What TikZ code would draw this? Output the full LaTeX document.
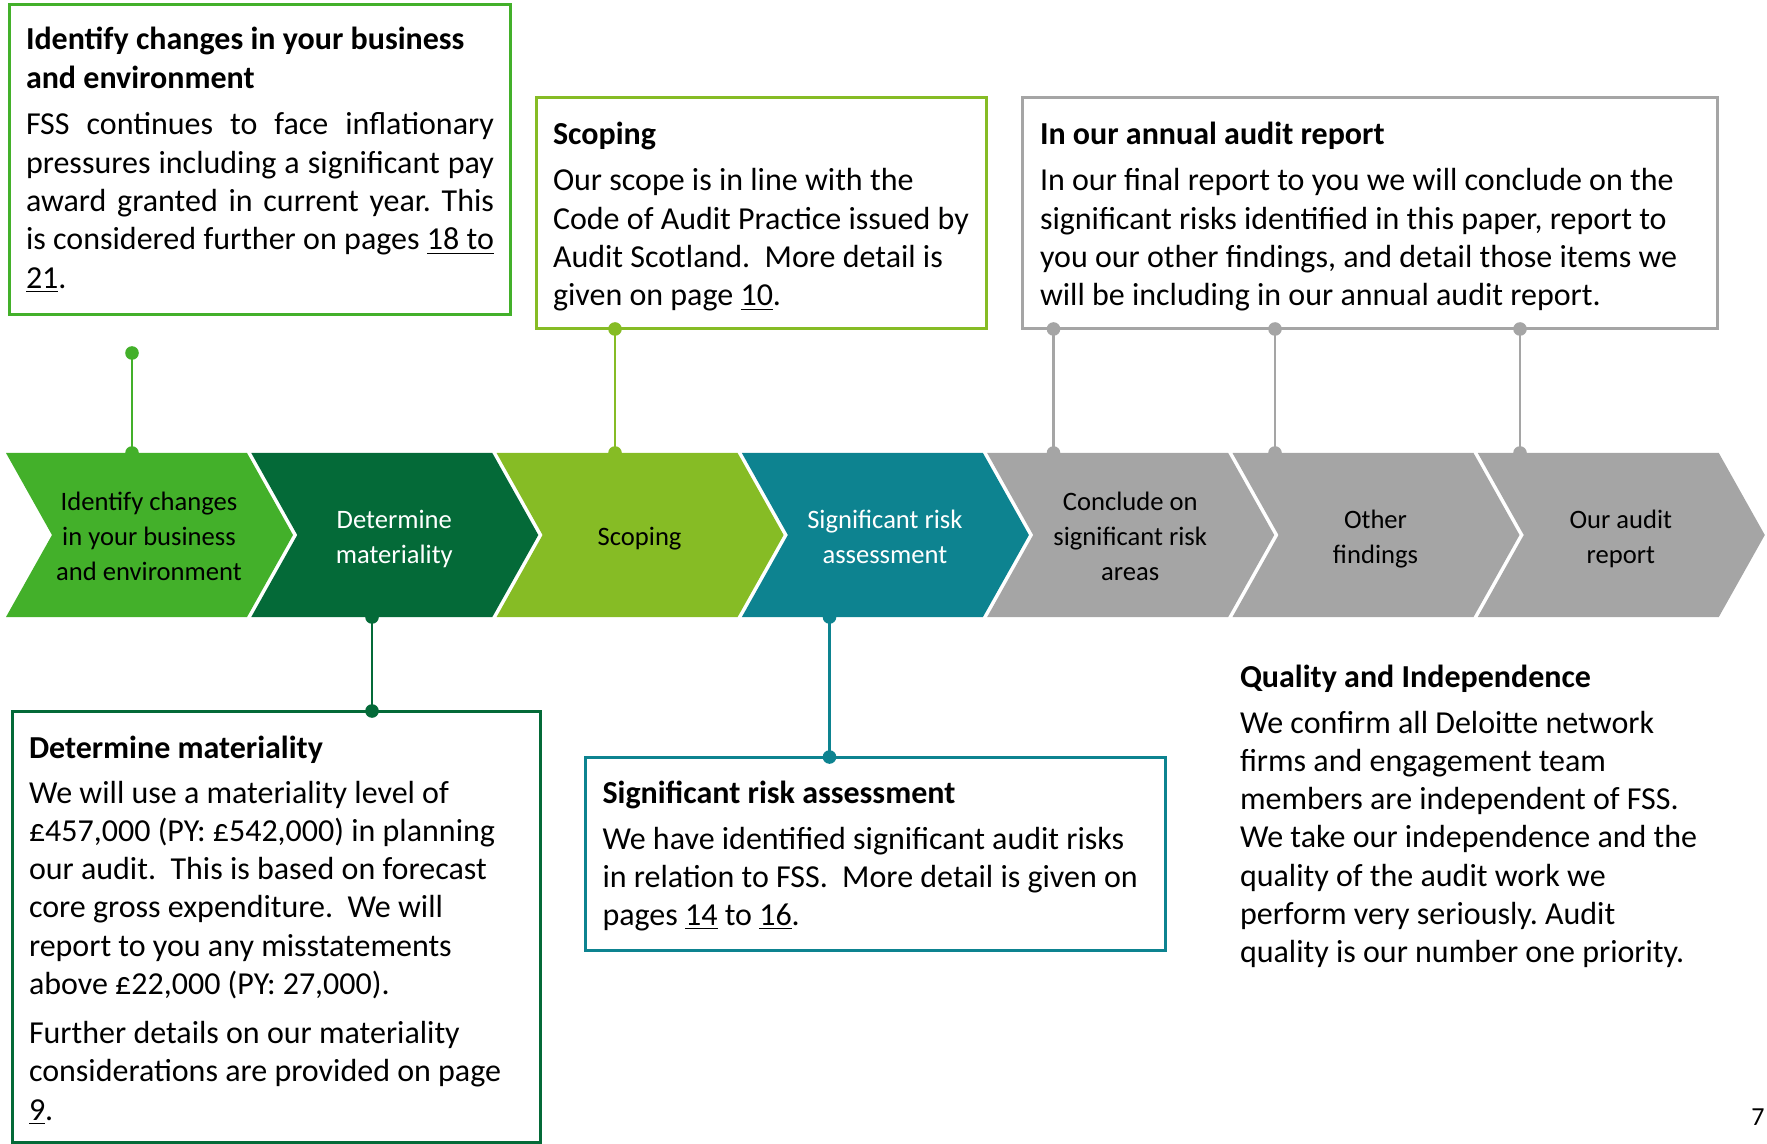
\documentclass[tikz,border=0pt]{standalone}
\usepackage{fontspec}
\setmainfont{Carlito}
\usetikzlibrary{fit}
\definecolor{cgreen}{HTML}{43B02A}
\definecolor{cdark}{HTML}{046A38}
\definecolor{clime}{HTML}{86BC25}
\definecolor{cteal}{HTML}{0D8390}
\definecolor{cgrey}{HTML}{A5A5A5}
\newcommand\ulk[1]{\underline{#1}}
\newcommand\bodyfont{\fontsize{16}{19.15}\selectfont}
\newcommand\blk[2]{\parbox[t]{#1}{\bodyfont\raggedright #2}}
\newcommand\jline[1]{\makebox[234pt][s]{#1}}
\frenchspacing
\begin{document}
\begin{tikzpicture}[x=0.5pt,y=-0.5pt,
  boxframe/.style={draw=#1, line width=1.5pt, inner sep=0pt, outer sep=0pt},
  txt/.style={anchor=base west, inner sep=0pt, outer sep=0pt},
  chevtxt/.style={align=center, inner sep=0pt, font=\fontsize{13.3}{17.5}\selectfont, text=#1},
  link/.style={draw=#1, line width=1.25pt}]
\useasboundingbox (0,0) rectangle (1767,1144);

% chevrons
\foreach \i/\col in {0/cgreen,1/cdark,2/clime,3/cteal,4/cgrey,5/cgrey,6/cgrey}{
  \fill[\col] ({6+245.3*\i},453) -- ++(241,0) -- ++(46,82) -- ++(-46,82) -- ++(-241,0) -- ++(46,-82) -- cycle;
}
\node[chevtxt=black] (ch1) at ({6+143},536) {Identify changes\\in your business\\and environment};
\node[chevtxt=white] (ch2) at ({6+245.3+143},539) {Determine\\materiality};
\node[chevtxt=black] (ch3) at ({6+245.3*2+143},539) {Scoping};
\node[chevtxt=white] (ch4) at ({6+245.3*3+143},537) {Significant risk\\assessment};
\node[chevtxt=black] (ch5) at ({6+245.3*4+143},536) {Conclude on\\significant risk\\areas};
\node[chevtxt=black] (ch6) at ({6+245.3*5+143},539) {Other\\findings};
\node[chevtxt=black] (ch7) at ({6+245.3*6+143},539) {Our audit\\report};

% boxes
\node[boxframe=cgreen, fit={(9,5) (510.7,315)}] (b1) {};
\node[boxframe=clime, fit={(536.7,98) (986,329)}] (b2) {};
\node[boxframe=cgrey, fit={(1022,98) (1717,329)}] (b3) {};
\node[boxframe=cdark, fit={(12.5,711) (540,1142)}] (b4) {};
\node[boxframe=cteal, fit={(585,757) (1165,950)}] (b5) {};

% connector end points
\coordinate (d1) at (132,353);   \coordinate (c1t) at (132,453);
\coordinate (d2) at (615,329);   \coordinate (c3t) at (615,453);
\coordinate (d3a) at (1053.5,329); \coordinate (c5t) at (1053.5,453);
\coordinate (d3b) at (1275,329);   \coordinate (c6t) at (1275,453);
\coordinate (d3c) at (1520,329);   \coordinate (c7t) at (1520,453);
\coordinate (c2b) at (372,617);  \coordinate (d4) at (372,711);
\coordinate (c4b) at (829.5,617); \coordinate (d5) at (829.5,757);

\draw[link=cgreen] (d1) -- (c1t);
\draw[link=clime] (d2) -- (c3t);
\draw[link=cgrey] (d3a) -- (c5t);
\draw[link=cgrey] (d3b) -- (c6t);
\draw[link=cgrey] (d3c) -- (c7t);
\draw[link=cdark] (c2b) -- (d4);
\draw[link=cteal] (c4b) -- (d5);
\foreach \p/\col in {d1/cgreen,c1t/cgreen,d2/clime,c3t/clime,d3a/cgrey,c5t/cgrey,d3b/cgrey,c6t/cgrey,d3c/cgrey,c7t/cgrey,c2b/cdark,d4/cdark,c4b/cteal,d5/cteal}{
  \fill[\col] (\p) circle[radius=3.4pt];
}

% texts
\node[txt] (t1) at (26,50) {\blk{250pt}{\textbf{Identify changes in your business}\\\textbf{and environment}}};
\node[txt] (x1) at (26,135) {\blk{240pt}{\jline{FSS continues to face inflationary}\\
\jline{pressures including a significant pay}\\
\jline{award granted in current year. This}\\
\jline{is considered further on pages \ulk{18 to}}\\
\ulk{21}.}};

\node[txt] (t2) at (553,145) {\blk{210pt}{\textbf{Scoping}}};
\node[txt] (x2) at (553,191) {\blk{215pt}{Our scope is in line with the\\
Code of Audit Practice issued by\\
Audit Scotland.~ More detail is\\
given on page \ulk{10}.}};

\node[txt] (t3) at (1040,145) {\blk{330pt}{\textbf{In our annual audit report}}};
\node[txt] (x3) at (1040,191) {\blk{340pt}{In our final report to you we will conclude on the\\
significant risks identified in this paper, report to\\
you our other findings, and detail those items we\\
will be including in our annual audit report.}};

\node[txt] (t4) at (29,758) {\blk{250pt}{\textbf{Determine materiality}}};
\node[txt] (x4) at (29,803) {\blk{250pt}{We will use a materiality level of\\
\pounds457,000 (PY: \pounds542,000) in planning\\
our audit.~ This is based on forecast\\
core gross expenditure.~ We will\\
report to you any misstatements\\
above \pounds22,000 (PY: 27,000).\\[5.4pt]
Further details on our materiality\\
considerations are provided on page\\
\ulk{9}.}};

\node[txt] (t5) at (602.5,803) {\blk{280pt}{\textbf{Significant risk assessment}}};
\node[txt] (x5) at (602.5,849) {\blk{285pt}{We have identified significant audit risks\\
in relation to FSS.~ More detail is given on\\
pages \ulk{14} to \ulk{16}.}};

\node[txt] (t6) at (1240,687) {\blk{250pt}{\textbf{Quality and Independence}}};
\node[txt] (x6) at (1240,733) {\blk{250pt}{We confirm all Deloitte network\\
firms and engagement team\\
members are independent of FSS.\\
We take our independence and the\\
quality of the audit work we\\
perform very seriously. Audit\\
quality is our number one priority.}};

\node[anchor=base east, inner sep=0pt, font=\fontsize{13}{15}\selectfont] (pg) at (1765,1125) {7};
\end{tikzpicture}
\end{document}
